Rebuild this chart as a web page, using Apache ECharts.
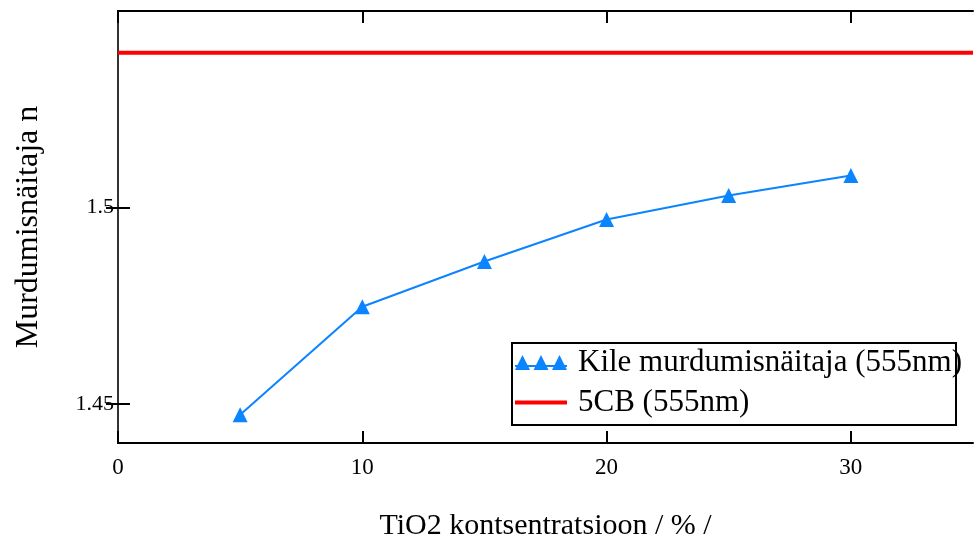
<!DOCTYPE html>
<html>
<head>
<meta charset="utf-8">
<script src="https://cdn.jsdelivr.net/npm/echarts@6/dist/echarts.min.js"></script>
<style>
  html,body{margin:0;padding:0;background:#fff;}
  #chart{width:974px;height:539px;}
</style>
</head>
<body>
<div id="chart"></div>
<script>
// data
var concentration=[5,10,15,20,25,30];
var kileIndex=[1.4472,1.4747,1.4862,1.4969,1.5030,1.5081];
var cbLevel=1.5394;
var cbRange=[0,35];
var xTicks=[0,10,20,30];
var yTicks=[1.45,1.5];

var serif="'Liberation Serif','Times New Roman',serif";
var kileName='Kile murdumisnäitaja (555nm)';
var cbName='5CB (555nm)';

var kileData=[];
for (var i=0;i<concentration.length;i++) {
  kileData.push([concentration[i],kileIndex[i]]);
}
var cbData=[];
for (var j=0;j<cbRange.length;j++) {
  cbData.push([cbRange[j],cbLevel]);
}

// legend icons: three triangles on a line, and a plain thick line
var tripleTri='path://M0,15 L7.5,0 L15,15 Z M18.5,15 L26,0 L33.5,15 Z M37,15 L44.5,0 L52,15 Z M0,10 L52,10 L52,12 L0,12 Z';
var redBar='path://M0,0 L0.01,0 L0.01,0.01 Z M0,15 L0.01,15 L0.01,14.99 Z M0,5.5 L52,5.5 L52,9.5 L0,9.5 Z';

var axisLine={show:true,lineStyle:{color:'#000',width:2}};
var tick={show:true,inside:true,length:12,lineStyle:{color:'#000',width:2}};

var option={
  animation:false,
  backgroundColor:'#fff',
  grid:{left:118,right:1,top:11,bottom:96,outerBoundsMode:'none',containLabel:false},
  xAxis:[{
    type:'value',min:0,max:35,
    position:'bottom',
    axisLine:axisLine,
    axisTick:Object.assign({customValues:xTicks},tick),
    axisLabel:{customValues:xTicks,margin:13,color:'#000',fontFamily:serif,fontSize:23},
    splitLine:{show:false},
    name:'TiO2 kontsentratsioon / % /',
    nameLocation:'middle',
    nameGap:68,
    nameTextStyle:{color:'#000',fontFamily:serif,fontSize:30}
  },{
    type:'value',min:0,max:35,
    position:'top',
    axisLine:axisLine,
    axisTick:Object.assign({customValues:xTicks},tick),
    axisLabel:{show:false},
    splitLine:{show:false}
  }],
  yAxis:[{
    type:'value',min:1.44,max:1.55,
    position:'left',
    axisLine:axisLine,
    axisTick:Object.assign({customValues:yTicks},tick),
    axisLabel:{customValues:yTicks,margin:4,color:'#000',fontFamily:serif,fontSize:22},
    splitLine:{show:false},
    name:'Murdumisnäitaja n',
    nameLocation:'middle',
    nameGap:73,
    nameTextStyle:{color:'#000',fontFamily:serif,fontSize:32}
  },{
    type:'value',min:1.44,max:1.55,
    position:'right',
    axisLine:{show:true,lineStyle:{color:'#333',width:2}},
    axisTick:Object.assign({customValues:yTicks},tick),
    axisLabel:{show:false},
    splitLine:{show:false}
  }],
  legend:{
    orient:'vertical',
    left:515,top:347,
    padding:0,
    itemWidth:52,itemHeight:15,
    itemGap:9,
    textStyle:{color:'#000',fontFamily:serif,fontSize:31,lineHeight:31,padding:[0,0,0,6]},
    data:[{name:kileName,icon:tripleTri},{name:cbName,icon:redBar}]
  },
  graphic:[{
    type:'rect',
    shape:{x:512,y:343,width:444,height:82},
    style:{fill:'none',stroke:'#000',lineWidth:2},
    z:100
  }],
  series:[{
    name:kileName,
    type:'line',
    data:kileData,
    symbol:'triangle',
    symbolSize:15,
    itemStyle:{color:'#0a84ff'},
    lineStyle:{color:'#0a84ff',width:2}
  },{
    name:cbName,
    type:'line',
    data:cbData,
    symbol:'none',
    itemStyle:{color:'#ff0000'},
    lineStyle:{color:'#ff0000',width:4}
  }]
};

var chart=echarts.init(document.getElementById('chart'));
chart.setOption(option);
</script>
</body>
</html>
